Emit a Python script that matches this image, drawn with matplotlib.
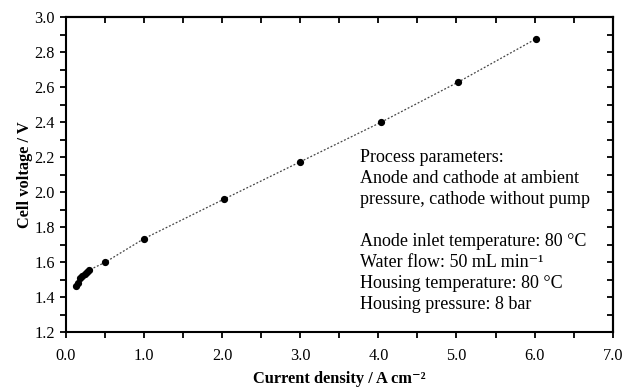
import matplotlib
matplotlib.use("Agg")
import matplotlib.pyplot as plt
from matplotlib.ticker import MultipleLocator

# Messepunkter
current_density = [0.13, 0.15, 0.18, 0.21, 0.24, 0.27, 0.29, 0.5, 1.0, 2.03, 3.0, 4.03, 5.02, 6.02]
cell_voltage = [1.464, 1.48, 1.512, 1.524, 1.535, 1.545, 1.555, 1.60, 1.736, 1.963, 2.175, 2.40, 2.63, 2.878]

info_lines = [
    "Process parameters:",
    "Anode and cathode at ambient",
    "pressure, cathode without pump",
    "",
    "Anode inlet temperature: 80 \u00b0C",
    "Water flow: 50 mL min\u207b\u00b9",
    "Housing temperature: 80 \u00b0C",
    "Housing pressure: 8 bar",
]

plt.rcParams["font.family"] = ["Liberation Serif", "DejaVu Serif"]

fig = plt.figure(figsize=(6.22, 3.87), dpi=100)
ax = fig.add_axes([0.106, 0.141, 0.879, 0.814])

ax.plot(current_density, cell_voltage, color="#444444", linestyle=(0, (1.5, 1.5)),
        linewidth=0.9, marker="o", markersize=4.2, markerfacecolor="black",
        markeredgecolor="black")

ax.set_xlim(0, 7)
ax.set_ylim(1.2, 3.0)
ax.xaxis.set_major_locator(MultipleLocator(1.0))
ax.xaxis.set_minor_locator(MultipleLocator(0.5))
ax.yaxis.set_major_locator(MultipleLocator(0.2))
ax.yaxis.set_minor_locator(MultipleLocator(0.1))
ax.xaxis.set_major_formatter(plt.FormatStrFormatter("%.1f"))
ax.yaxis.set_major_formatter(plt.FormatStrFormatter("%.1f"))
ax.tick_params(which="both", direction="out", length=4, width=1.3, labelsize=11.7)
ax.tick_params(axis="x", which="both", pad=7)
ax.tick_params(axis="y", which="both", pad=4)

for s in ax.spines.values():
    s.set_linewidth(1.5)

# top og højre akse med ticks indad
top = ax.secondary_xaxis("top")
top.xaxis.set_major_locator(MultipleLocator(0.5))
top.tick_params(direction="in", length=4, width=1.3, labeltop=False)
right = ax.secondary_yaxis("right")
right.yaxis.set_major_locator(MultipleLocator(0.1))
right.tick_params(direction="in", length=4, width=1.3, labelright=False)
top.spines["top"].set_linewidth(1.5)
right.spines["right"].set_linewidth(1.5)

ax.set_xlabel("Current density / A cm\u207b\u00b2", fontweight="bold", fontsize=11.8, labelpad=5)
ax.set_ylabel("Cell voltage / V", fontweight="bold", fontsize=11.8, labelpad=1)

ax.text(0.537, 0.583, "\n".join(info_lines), transform=ax.transAxes, fontsize=13,
        va="top", ha="left", linespacing=1.31)

fig.savefig("out.png", dpi=100)
